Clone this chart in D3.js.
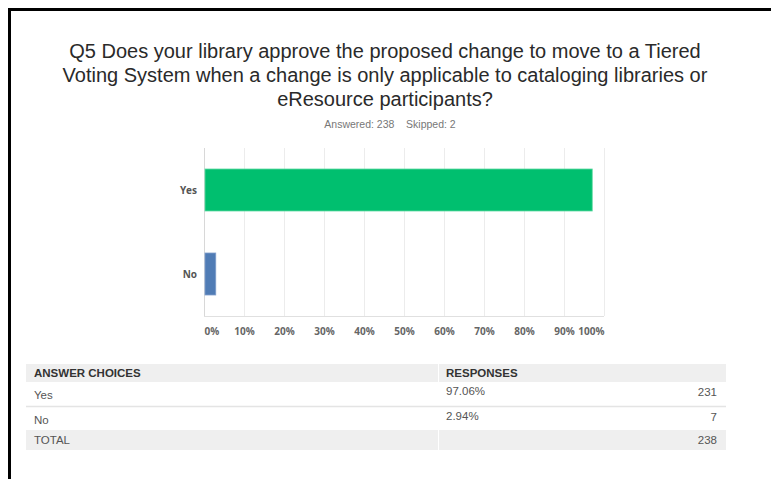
<!DOCTYPE html>
<html>
<head>
<meta charset="utf-8">
<script src="https://cdn.jsdelivr.net/npm/d3@7"></script>
<style>
  body { margin: 0; background: #fff; }
  svg { display: block; }
</style>
</head>
<body>
<div id="chart"></div>
<script>
// survey data
var titleLines = [
    "Q5 Does your library approve the proposed change to move to a Tiered",
    "Voting System when a change is only applicable to cataloging libraries or",
    "eResource participants?"
];
var answered = 238, skipped = 2;
var choices = ["Yes", "No"];
var percents = [97.06, 2.94];
var counts = [231, 7];
var barColors = ["#00bf6f", "#507cb5"];
var ticks = [0, 10, 20, 30, 40, 50, 60, 70, 80, 90, 100];

var W = 771, H = 479;

var svg = d3.select("#chart").append("svg")
    .attr("width", W)
    .attr("height", H);

// black frame (top + left visible)
svg.append("rect")
    .attr("x", 9.5).attr("y", 9.5)
    .attr("width", W).attr("height", H)
    .attr("fill", "none")
    .attr("stroke", "#000")
    .attr("stroke-width", 3);

// title
svg.append("g").selectAll("text")
    .data(titleLines)
    .enter().append("text")
    .attr("x", 385)
    .attr("y", (d, i) => 58 + i * 24)
    .attr("text-anchor", "middle")
    .style("font-family", "Liberation Sans, Arial, sans-serif")
    .style("font-size", "20px")
    .style("fill", "#2a2a2a")
    .text((d) => d);

svg.append("text")
    .attr("x", 390)
    .attr("y", 128)
    .attr("text-anchor", "middle")
    .style("font-family", "Liberation Sans, Arial, sans-serif")
    .style("font-size", "10.5px")
    .style("fill", "#777")
    .attr("xml:space", "preserve")
    .text("Answered: " + answered + "    Skipped: " + skipped);

// chart area
var margin = {top: 148, left: 204};
var width = 400, height = 168;

var x = d3.scaleLinear().domain([0, 100]).range([0, width]);
var y = d3.scaleBand().domain(choices).range([0, height])
    .paddingInner(0.5).paddingOuter(0.25);

var g = svg.append("g")
    .attr("transform", "translate(" + margin.left + "," + margin.top + ")");

// gridlines
g.selectAll(".grid")
    .data(ticks.slice(1))
    .enter().append("line")
    .attr("x1", (d) => x(d) + 0.5).attr("x2", (d) => x(d) + 0.5)
    .attr("y1", 0).attr("y2", height)
    .attr("stroke", "#ececec");

// axes lines
g.append("line")
    .attr("x1", 0.5).attr("x2", 0.5).attr("y1", 0).attr("y2", height)
    .attr("stroke", "#d8d8d8");
g.append("line")
    .attr("x1", 0).attr("x2", width).attr("y1", height + 0.5).attr("y2", height + 0.5)
    .attr("stroke", "#e0e0e0");

// bars
g.selectAll(".bar")
    .data(choices)
    .enter().append("rect")
    .attr("x", x(0) + 1)
    .attr("y", (d) => y(d))
    .attr("width", (d, i) => x(percents[i]) - 1)
    .attr("height", y.bandwidth())
    .attr("fill", (d, i) => barColors[i])
    .attr("stroke", (d, i) => i === 0 ? "#5fd9a2" : "#7f9fcc")
    .attr("stroke-width", 0.8);

// category labels
g.selectAll(".cat")
    .data(choices)
    .enter().append("text")
    .attr("x", -7)
    .attr("y", (d) => y(d) + y.bandwidth() / 2)
    .attr("dy", "0.35em")
    .attr("text-anchor", "end")
    .style("font-family", "Open Sans, sans-serif")
    .style("font-weight", "bold")
    .style("font-size", "10px")
    .style("fill", "#555")
    .text((d) => d);

// x tick labels
var xAxis = d3.axisBottom(x)
    .tickValues(ticks)
    .tickSize(0)
    .tickPadding(12)
    .tickFormat((d) => d + "%");
var ax = g.append("g")
    .attr("transform", "translate(0," + height + ")")
    .call(xAxis);
ax.select(".domain").remove();
ax.selectAll("text")
    .style("font-family", "Open Sans, sans-serif")
    .style("font-weight", "bold")
    .style("font-size", "10px")
    .style("fill", "#666")
    .attr("text-anchor", (d) => d === 0 ? "start" : d === 100 ? "end" : "middle");

// response table
var tbl = svg.append("g").attr("transform", "translate(26,364)");
var tblFont = "Liberation Sans, Arial, sans-serif";
var rows = choices.map((c, i) => ({label: c, pct: percents[i].toFixed(2) + "%", n: counts[i]}));
var total = d3.sum(counts);

// header
tbl.append("rect").attr("x", 0).attr("y", 0).attr("width", 700).attr("height", 18).attr("fill", "#efefef");
tbl.append("line").attr("x1", 412.5).attr("x2", 412.5).attr("y1", 0).attr("y2", 18).attr("stroke", "#fff");
tbl.append("text").attr("x", 8).attr("y", 13)
    .style("font-family", tblFont).style("font-weight", "bold").style("font-size", "11.5px").style("fill", "#333")
    .text("ANSWER CHOICES");
tbl.append("text").attr("x", 420).attr("y", 13)
    .style("font-family", tblFont).style("font-weight", "bold").style("font-size", "11.5px").style("fill", "#333")
    .text("RESPONSES");

var rowY = [18, 43];
var rowH = 24;
rows.forEach((r, i) => {
    var ry = rowY[i];
    if (i === 0) {
        tbl.append("line").attr("x1", 0).attr("x2", 700).attr("y1", ry + rowH + 0.5).attr("y2", ry + rowH + 0.5)
            .attr("stroke", "#e4e4e4").attr("stroke-width", 1.5);
    }
    tbl.append("text").attr("x", 8).attr("y", ry + 17)
        .style("font-family", tblFont).style("font-size", "11.5px").style("fill", "#555")
        .text(r.label);
    tbl.append("text").attr("x", 420).attr("y", ry + 13)
        .style("font-family", tblFont).style("font-size", "11.5px").style("fill", "#555")
        .text(r.pct);
    tbl.append("text").attr("x", 691).attr("y", ry + 14).attr("text-anchor", "end")
        .style("font-family", tblFont).style("font-size", "11.5px").style("fill", "#555")
        .text(r.n);
});

// total row
tbl.append("rect").attr("x", 0).attr("y", 66).attr("width", 700).attr("height", 20).attr("fill", "#efefef");
tbl.append("line").attr("x1", 412.5).attr("x2", 412.5).attr("y1", 66).attr("y2", 86).attr("stroke", "#fff");
tbl.append("text").attr("x", 8).attr("y", 80)
    .style("font-family", tblFont).style("font-size", "11.5px").style("fill", "#555")
    .text("TOTAL");
tbl.append("text").attr("x", 691).attr("y", 80).attr("text-anchor", "end")
    .style("font-family", tblFont).style("font-size", "11.5px").style("fill", "#555")
    .text(total);
</script>
</body>
</html>
